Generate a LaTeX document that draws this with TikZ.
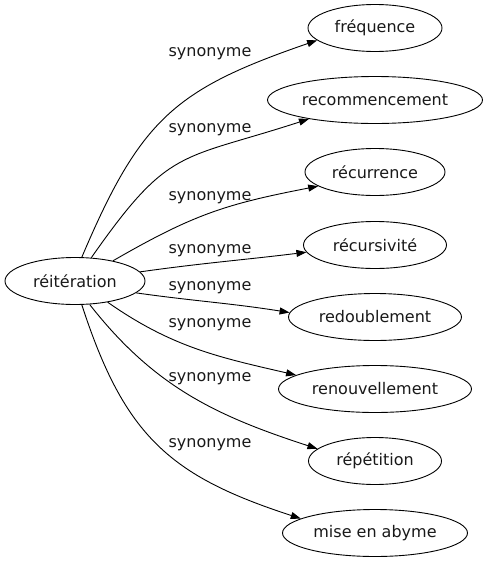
\documentclass[tikz,border=0pt]{standalone}
\usepackage{fontspec}
\setmainfont{DejaVu Sans}
\usetikzlibrary{shapes.geometric,arrows.meta}
\begin{document}
\begin{tikzpicture}[x=1pt, y=1pt, line width=0.9pt,
    font=\fontsize{16}{19}\selectfont,
    >={Triangle[length=10pt,width=7pt]},
    mot/.style={draw, ellipse, inner sep=0pt, minimum height=47pt, text=black!90},
    syn/.style={text=black!90}]
    \useasboundingbox (0,0) rectangle (487,-563);
    \node[mot, minimum width=140pt] (reit) at (75,-281) {réitération};
    \node[mot, minimum width=134pt] (freq) at (375,-28) {fréquence};
    \node[mot, minimum width=215pt] (recom) at (375,-100) {recommencement};
    \node[mot, minimum width=140pt] (recur) at (375,-172) {récurrence};
    \node[mot, minimum width=143pt] (recurs) at (375,-245) {récursivité};
    \node[mot, minimum width=173pt] (redoub) at (375,-317) {redoublement};
    \node[mot, minimum width=193pt] (renouv) at (375,-389) {renouvellement};
    \node[mot, minimum width=133pt] (repet) at (375,-461) {répétition};
    \node[mot, minimum width=185pt] (abyme) at (375,-533) {mise en abyme};
    \node[syn] (s1) at (210,-54) {synonyme};
    \node[syn] (s2) at (210,-130) {synonyme};
    \node[syn] (s3) at (210,-198) {synonyme};
    \node[syn] (s4) at (210,-251) {synonyme};
    \node[syn] (s5) at (210,-288) {synonyme};
    \node[syn] (s6) at (210,-325) {synonyme};
    \node[syn] (s7) at (210,-379) {synonyme};
    \node[syn] (s8) at (210,-445) {synonyme};
    \draw[->] (reit.74) to[out=67, in=199, looseness=1.2] (freq.192);
    \draw[->] (reit.55) to[out=55, in=198, looseness=1.35] (recom.196);
    \draw[->] (reit.28) to[out=30, in=191, looseness=1.1] (recur.194);
    \draw[->] (reit.8) to[out=8, in=187] (recurs.186);
    \draw[->] (reit.349) to[out=-8, in=171] (redoub.177);
    \draw[->] (reit.327) to[out=-35, in=167] (renouv.170);
    \draw[->] (reit.302) to[out=-52, in=162] (repet.168);
    \draw[->] (reit.286) to[out=-72, in=162, looseness=1.15] (abyme.169);
\end{tikzpicture}
\end{document}
